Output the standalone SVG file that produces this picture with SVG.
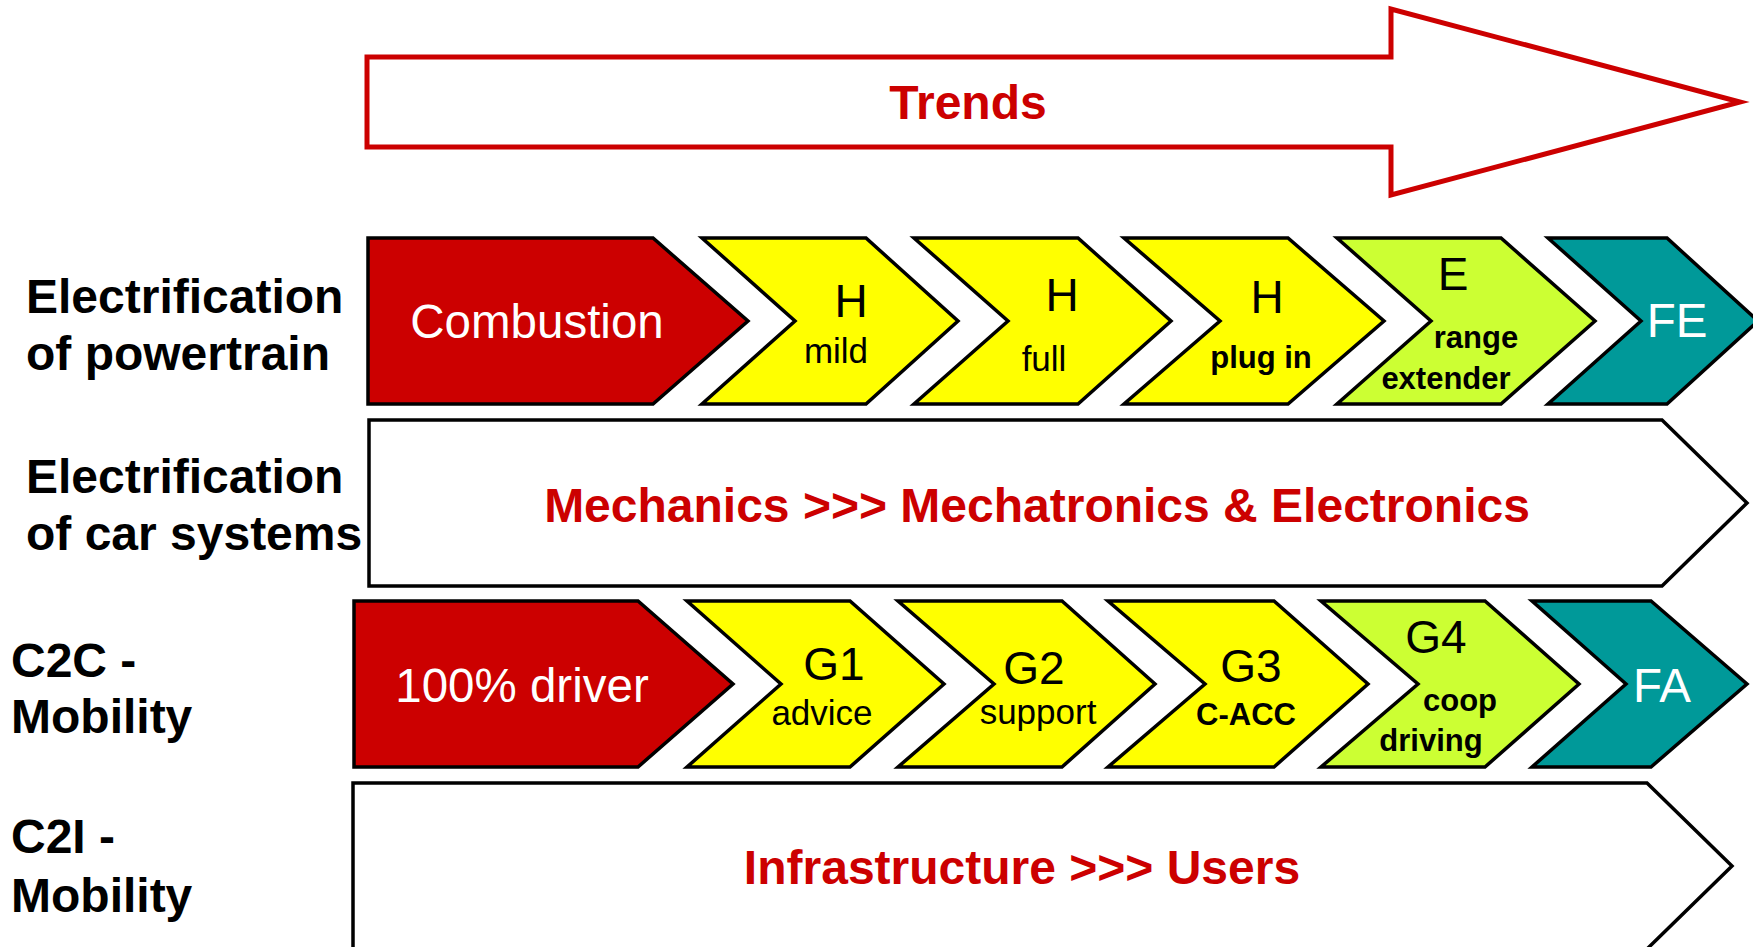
<svg xmlns="http://www.w3.org/2000/svg" width="1753" height="947" viewBox="0 0 1753 947">
<style>
.bg{fill:#ffffff}
.sh{stroke:#000000;stroke-width:3.5;stroke-linejoin:miter}
.red{fill:#CC0000}
.yel{fill:#FFFF00}
.lime{fill:#CCFF33}
.teal{fill:#009999}
.wht{fill:#ffffff}
text{font-family:"Liberation Sans",Arial,sans-serif;text-anchor:middle}
.lbl{font-size:48px;font-weight:bold;fill:#000;text-anchor:start}
.big{font-size:46px;fill:#000}
.bigw{font-size:47.5px;fill:#fff}
.sub{font-size:35px;fill:#000}
.subb{font-size:31px;font-weight:bold;fill:#000}
.rt{font-size:48px;font-weight:bold;fill:#CC0000}
</style>
<rect class="bg" x="0" y="0" width="1753" height="947"/>

<g id="trends">
<polygon points="367,57 1391,57 1391,9 1740,102 1391,195 1391,147 367,147" fill="#ffffff" stroke="#CC0000" stroke-width="5"/>
<text class="rt" x="968" y="119">Trends</text>
</g>

<g id="labels">
<text class="lbl" x="26" y="313">Electrification</text>
<text class="lbl" x="26" y="370">of powertrain</text>
<text class="lbl" x="26" y="493">Electrification</text>
<text class="lbl" x="26" y="550">of car systems</text>
<text class="lbl" x="11" y="677">C2C -</text>
<text class="lbl" x="11" y="733">Mobility</text>
<text class="lbl" x="11" y="853">C2I -</text>
<text class="lbl" x="11" y="912">Mobility</text>
</g>

<g id="combustion">
<polygon class="sh red" points="368,238 653,238 748,321 653,404 368,404"/>
<text class="bigw" x="537" y="338">Combustion</text>
</g>
<g id="h-mild">
<polygon class="sh yel" points="702,238 866,238 958,321 866,404 702,404 795,321"/>
<text class="big" x="851" y="317">H</text>
<text class="sub" x="836" y="363">mild</text>
</g>
<g id="h-full">
<polygon class="sh yel" points="914,238 1078,238 1171,321 1078,404 914,404 1008,321"/>
<text class="big" x="1062" y="311">H</text>
<text class="sub" x="1044" y="371">full</text>
</g>
<g id="h-plugin">
<polygon class="sh yel" points="1124,238 1288,238 1384,321 1288,404 1124,404 1220,321"/>
<text class="big" x="1267" y="313">H</text>
<text class="subb" x="1261" y="368">plug in</text>
</g>
<g id="e-range">
<polygon class="sh lime" points="1337,238 1501,238 1595,321 1501,404 1337,404 1431,321"/>
<text class="big" x="1453" y="290">E</text>
<text class="subb" x="1476" y="348">range</text>
<text class="subb" x="1446" y="389">extender</text>
</g>
<g id="fe">
<polygon class="sh teal" points="1548,238 1667,238 1758,321 1667,404 1548,404 1641,321"/>
<text class="bigw" x="1677" y="337">FE</text>
</g>

<g id="car-systems">
<polygon class="sh wht" points="369,420 1662,420 1747,503 1662,586 369,586"/>
<text class="rt" x="1037" y="522">Mechanics &gt;&gt;&gt; Mechatronics &amp; Electronics</text>
</g>

<g id="driver">
<polygon class="sh red" points="354,601 638,601 733,684 638,767 354,767"/>
<text class="bigw" x="522" y="702">100% driver</text>
</g>
<g id="g1">
<polygon class="sh yel" points="687,601 850,601 944,684 850,767 687,767 781,684"/>
<text class="big" x="834" y="680">G1</text>
<text class="sub" x="822" y="725">advice</text>
</g>
<g id="g2">
<polygon class="sh yel" points="898,601 1062,601 1155,684 1062,767 898,767 994,684"/>
<text class="big" x="1034" y="684">G2</text>
<text class="sub" x="1038" y="724">support</text>
</g>
<g id="g3">
<polygon class="sh yel" points="1108,601 1274,601 1368,684 1274,767 1108,767 1205,684"/>
<text class="big" x="1251" y="682">G3</text>
<text class="subb" x="1246" y="725">C-ACC</text>
</g>
<g id="g4">
<polygon class="sh lime" points="1321,601 1485,601 1579,684 1485,767 1321,767 1418,684"/>
<text class="big" x="1436" y="653">G4</text>
<text class="subb" x="1460" y="711">coop</text>
<text class="subb" x="1431" y="751">driving</text>
</g>
<g id="fa">
<polygon class="sh teal" points="1532,601 1651,601 1747,684 1651,767 1532,767 1626,684"/>
<text class="bigw" x="1662" y="702">FA</text>
</g>

<g id="c2i">
<polygon class="sh wht" points="353,783 1647,783 1732,866 1647,949 353,949"/>
<text class="rt" x="1022" y="884">Infrastructure &gt;&gt;&gt; Users</text>
</g>

<g id="connectors"></g>
</svg>
